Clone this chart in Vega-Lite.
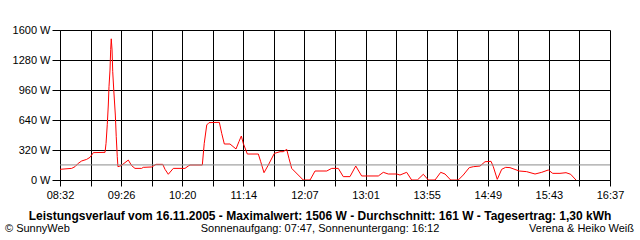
{
  "$schema": "https://vega.github.io/schema/vega-lite/v6.json",
  "width": 550,
  "height": 150,
  "autosize": {"type": "none"},
  "padding": {"left": 60, "top": 30, "right": 30, "bottom": 60},
  "background": "white",
  "config": {
    "view": {"stroke": null},
    "font": "Liberation Sans",
    "axis": {
      "grid": true, "gridColor": "#000000", "gridOpacity": 1, "gridWidth": 1,
      "domainColor": "#000000", "domainWidth": 1,
      "tickColor": "#000000", "tickWidth": 1,
      "labelFont": "Liberation Sans", "labelFontSize": 11, "labelColor": "#000000",
      "labelOverlap": false, "labelFlush": false, "title": null, "zindex": 1
    }
  },
  "datasets": {
    "power": [
      {"minute": 512.0, "watt": 114}, {"minute": 522.3, "watt": 124}, {"minute": 525.2, "watt": 142},
      {"minute": 528.1, "watt": 178}, {"minute": 531.1, "watt": 203}, {"minute": 535.5, "watt": 220},
      {"minute": 538.5, "watt": 242}, {"minute": 541.4, "watt": 292}, {"minute": 551.7, "watt": 295},
      {"minute": 552.6, "watt": 391}, {"minute": 553.7, "watt": 594}, {"minute": 554.6, "watt": 800},
      {"minute": 555.2, "watt": 995}, {"minute": 556.1, "watt": 1173}, {"minute": 556.7, "watt": 1394},
      {"minute": 557.2, "watt": 1506}, {"minute": 557.9, "watt": 1387}, {"minute": 558.5, "watt": 1155},
      {"minute": 559.4, "watt": 960}, {"minute": 560.8, "watt": 693}, {"minute": 561.6, "watt": 462},
      {"minute": 562.5, "watt": 249}, {"minute": 563.1, "watt": 142}, {"minute": 565.8, "watt": 153},
      {"minute": 569.3, "watt": 185}, {"minute": 572.2, "watt": 213}, {"minute": 575.2, "watt": 153},
      {"minute": 578.1, "watt": 124}, {"minute": 584.0, "watt": 124}, {"minute": 585.4, "watt": 135},
      {"minute": 592.9, "watt": 139}, {"minute": 596.7, "watt": 167}, {"minute": 602.6, "watt": 167},
      {"minute": 604.6, "watt": 114}, {"minute": 607.5, "watt": 61}, {"minute": 611.9, "watt": 124},
      {"minute": 622.2, "watt": 124}, {"minute": 625.1, "watt": 149}, {"minute": 626.6, "watt": 160},
      {"minute": 637.5, "watt": 160}, {"minute": 639.2, "watt": 391}, {"minute": 641.4, "watt": 587},
      {"minute": 643.4, "watt": 612}, {"minute": 652.5, "watt": 615}, {"minute": 654.6, "watt": 498},
      {"minute": 656.9, "watt": 384}, {"minute": 661.9, "watt": 384}, {"minute": 667.2, "watt": 331},
      {"minute": 669.8, "watt": 409}, {"minute": 671.9, "watt": 469}, {"minute": 673.6, "watt": 391},
      {"minute": 677.2, "watt": 277}, {"minute": 686.9, "watt": 277}, {"minute": 689.0, "watt": 195},
      {"minute": 691.9, "watt": 78}, {"minute": 695.7, "watt": 160}, {"minute": 701.0, "watt": 284},
      {"minute": 706.0, "watt": 302}, {"minute": 708.9, "watt": 302}, {"minute": 711.9, "watt": 327},
      {"minute": 713.9, "watt": 231}, {"minute": 716.3, "watt": 124}, {"minute": 726.5, "watt": 0},
      {"minute": 732.5, "watt": 0}, {"minute": 736.9, "watt": 96}, {"minute": 747.2, "watt": 96},
      {"minute": 751.6, "watt": 124}, {"minute": 757.4, "watt": 124}, {"minute": 761.8, "watt": 36},
      {"minute": 767.7, "watt": 36}, {"minute": 772.8, "watt": 149}, {"minute": 778.0, "watt": 43},
      {"minute": 792.7, "watt": 43}, {"minute": 797.1, "watt": 82}, {"minute": 801.5, "watt": 64},
      {"minute": 808.9, "watt": 64}, {"minute": 811.8, "watt": 53}, {"minute": 817.7, "watt": 82},
      {"minute": 822.1, "watt": 0}, {"minute": 827.1, "watt": 0}, {"minute": 832.4, "watt": 61},
      {"minute": 836.8, "watt": 0}, {"minute": 842.7, "watt": 0}, {"minute": 847.7, "watt": 82},
      {"minute": 851.5, "watt": 64}, {"minute": 856.5, "watt": 0}, {"minute": 863.2, "watt": 0},
      {"minute": 867.6, "watt": 53}, {"minute": 872.9, "watt": 132}, {"minute": 876.5, "watt": 142},
      {"minute": 882.4, "watt": 149}, {"minute": 886.8, "watt": 195}, {"minute": 892.1, "watt": 199},
      {"minute": 894.1, "watt": 142}, {"minute": 897.6, "watt": 7}, {"minute": 901.5, "watt": 114},
      {"minute": 905.0, "watt": 135}, {"minute": 908.8, "watt": 132}, {"minute": 917.0, "watt": 96},
      {"minute": 923.5, "watt": 89}, {"minute": 930.9, "watt": 64}, {"minute": 936.8, "watt": 82},
      {"minute": 942.6, "watt": 107}, {"minute": 946.5, "watt": 71}, {"minute": 952.9, "watt": 71},
      {"minute": 958.2, "watt": 78}, {"minute": 962.3, "watt": 61}, {"minute": 967.0, "watt": 0}
    ],
    "avg": [{"watt": 161}]
  },
  "layer": [
    {
      "data": {"name": "power"},
      "mark": {"type": "line", "color": "#ff0000", "strokeWidth": 1, "clip": true},
      "encoding": {
        "x": {
          "field": "minute", "type": "quantitative",
          "scale": {"domain": [512, 997], "nice": false, "zero": false},
          "axis": {
            "values": [512, 538.944, 565.889, 592.833, 619.778, 646.722, 673.667, 700.611, 727.556, 754.5, 781.444, 808.389, 835.333, 862.278, 889.222, 916.167, 943.111, 970.056, 997],
            "tickCount": 40,
            "labelExpr": "['08:32','','09:26','','10:20','','11:14','','12:07','','13:01','','13:55','','14:49','','15:43','','16:37'][round((datum.value-512)/26.9444)]",
            "tickSize": 6, "labelPadding": 3
          }
        },
        "y": {
          "field": "watt", "type": "quantitative",
          "scale": {"domain": [0, 1600], "nice": false},
          "axis": {
            "values": [0, 320, 640, 960, 1280, 1600],
            "tickCount": 20,
            "labelExpr": "datum.value + ' W'",
            "tickSize": 8, "labelPadding": 2
          }
        }
      }
    },
    {
      "data": {"name": "avg"},
      "mark": {"type": "rule", "color": "#8c8c8c", "strokeWidth": 1},
      "encoding": {"y": {"field": "watt", "type": "quantitative"}}
    },
    {
      "data": {"values": [{"label": "Leistungsverlauf vom 16.11.2005 - Maximalwert: 1506 W - Durchschnitt: 161 W - Tagesertrag: 1,30 kWh"}]},
      "mark": {"type": "text", "fontWeight": "bold", "fontSize": 12, "align": "center", "baseline": "middle", "color": "#000000"},
      "encoding": {"x": {"datum": 741.3, "type": "quantitative"}, "y": {"datum": -389, "type": "quantitative"}, "text": {"field": "label"}}
    },
    {
      "data": {"values": [{"label": "Sonnenaufgang: 07:47, Sonnenuntergang: 16:12"}]},
      "mark": {"type": "text", "fontSize": 11, "align": "center", "baseline": "middle", "color": "#000000"},
      "encoding": {"x": {"datum": 741.3, "type": "quantitative"}, "y": {"datum": -523, "type": "quantitative"}, "text": {"field": "label"}}
    },
    {
      "data": {"values": [{"label": "© SunnyWeb"}]},
      "mark": {"type": "text", "fontSize": 11, "align": "left", "baseline": "middle", "color": "#000000"},
      "encoding": {"x": {"datum": 463.5, "type": "quantitative"}, "y": {"datum": -523, "type": "quantitative"}, "text": {"field": "label"}}
    },
    {
      "data": {"values": [{"label": "Verena & Heiko Weiß"}]},
      "mark": {"type": "text", "fontSize": 11, "align": "right", "baseline": "middle", "color": "#000000"},
      "encoding": {"x": {"datum": 1018.2, "type": "quantitative"}, "y": {"datum": -523, "type": "quantitative"}, "text": {"field": "label"}}
    }
  ]
}
